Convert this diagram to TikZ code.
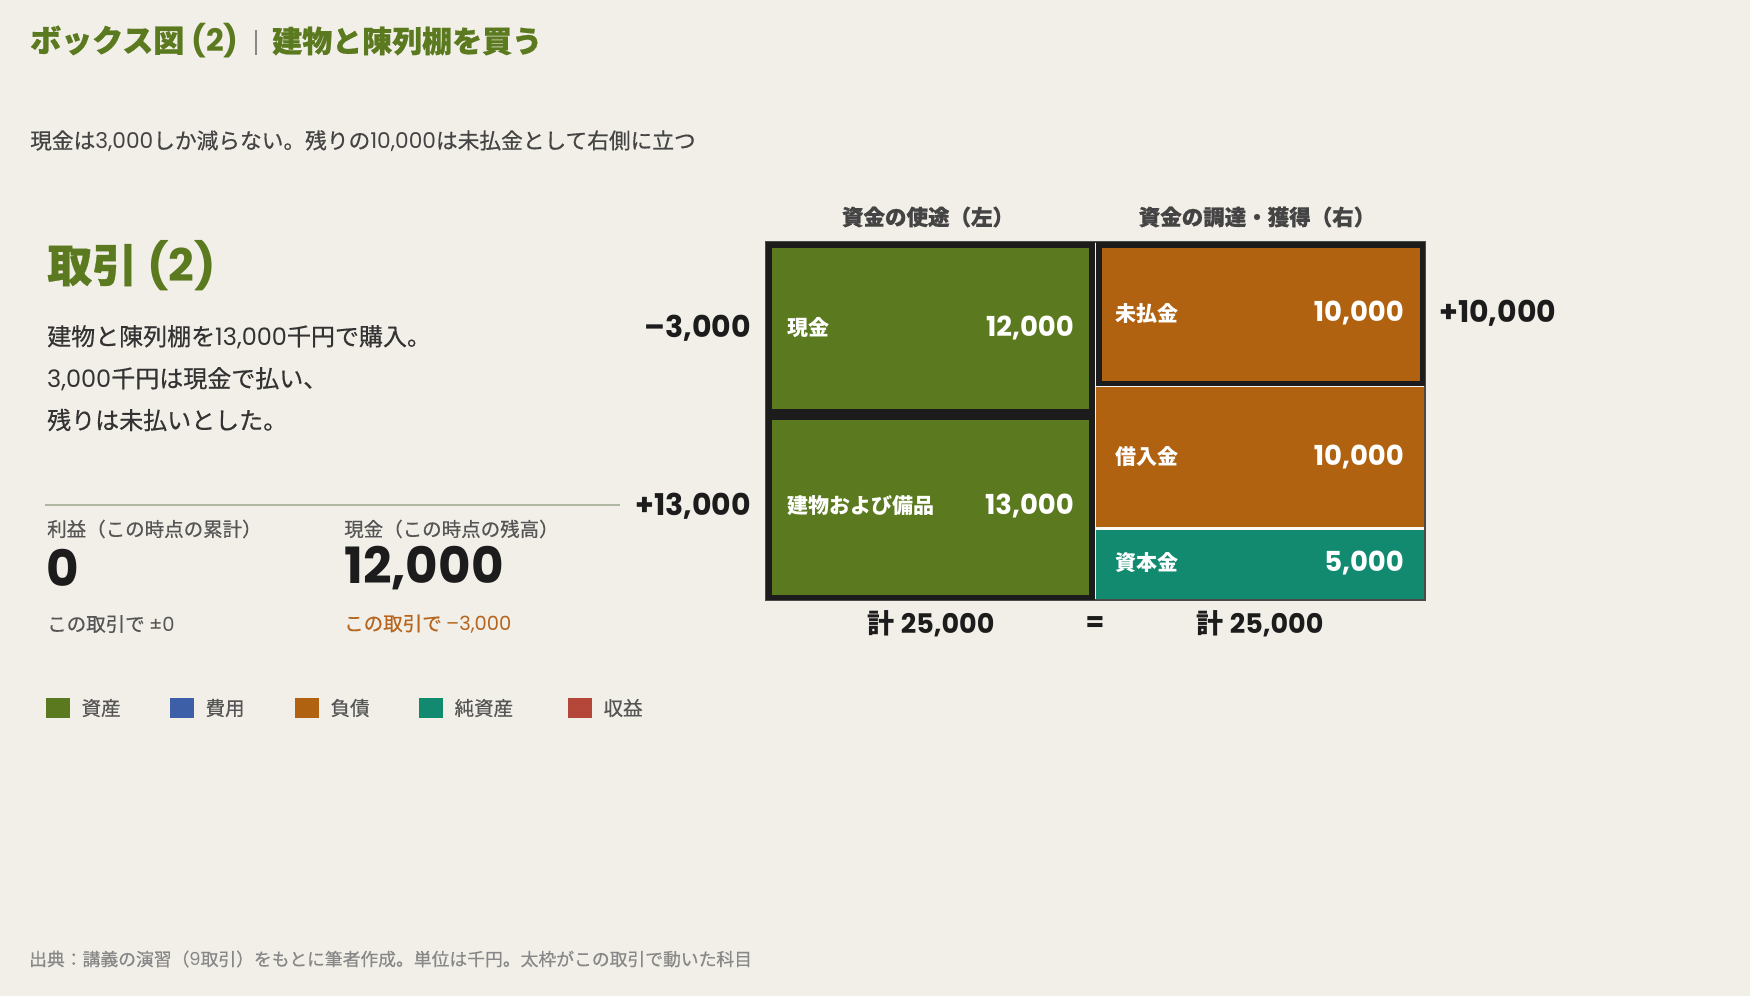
\documentclass[tikz,border=0pt]{standalone}
\usepackage{fontspec}
\setmainfont{Noto Sans CJK JP}
\newfontfamily\medfont{Noto Sans CJK JP}[FakeBold=0.5]
\newfontfamily\heavyfont{Noto Sans CJK JP}[BoldFeatures={FakeBold=0.8}]
\newfontfamily\numfont{Poppins}
\newcommand\nm[1]{{\numfont #1}}
\usetikzlibrary{positioning}

\definecolor{bgc}{HTML}{F2EFE8}
\definecolor{assetc}{HTML}{5B7A1F}
\definecolor{costc}{HTML}{3D5FA8}
\definecolor{debtc}{HTML}{B06210}
\definecolor{equityc}{HTML}{128A70}
\definecolor{incomec}{HTML}{B5473A}
\definecolor{inkc}{HTML}{1C1C1C}
\definecolor{headc}{HTML}{444444}
\definecolor{greyc}{HTML}{555555}
\definecolor{softc}{HTML}{888888}
\definecolor{rulec}{HTML}{B0B8A4}
\definecolor{framec}{HTML}{4A4A4A}
\definecolor{deltac}{HTML}{B5651D}

\tikzset{
  txt/.style={inner sep=0pt, anchor=west},
  title/.style={txt, text=assetc, font=\heavyfont\fontsize{30}{30}\selectfont\bfseries},
  head/.style={inner sep=0pt, text=headc, font=\heavyfont\fontsize{21.5}{21.5}\selectfont\bfseries},
  cellname/.style={txt, text=white, font=\fontsize{21}{21}\selectfont\bfseries},
  cellval/.style={inner sep=0pt, anchor=east, text=white, font=\numfont\fontsize{27.5}{27.5}\selectfont\bfseries},
  delta/.style={inner sep=0pt, text=inkc, font=\numfont\fontsize{30}{30}\selectfont\bfseries},
  total/.style={inner sep=0pt, text=inkc, font=\fontsize{27}{27}\selectfont\bfseries},
  desc/.style={txt, text=inkc!90, font=\medfont\fontsize{24}{24}\selectfont},
  small/.style={txt, text=greyc, font=\medfont\fontsize{19.5}{19.5}\selectfont},
  big/.style={txt, text=inkc, font=\numfont\fontsize{50}{50}\selectfont\bfseries},
  moved/.style={draw=inkc, line width=5.5pt},
  key/.style={minimum width=24pt, minimum height=20pt, inner sep=0pt, anchor=west},
}

\begin{document}
\begin{tikzpicture}[x=1pt,y=-1pt]
\fill[bgc] (0,0) rectangle (1750,996);

% title
\node[title, font=\heavyfont\fontsize{31}{31}\selectfont\bfseries] (title) at (30,41) {ボックス図 \nm{(2)}};
\draw[softc, line width=1.5] (256,30) -- (256,55);
\node[title] (title2) at (272,41) {建物と陳列棚を買う};
\node[txt, text=headc, font=\medfont\fontsize{21.7}{21.7}\selectfont] (sub) at (30,141)
  {現金は\nm{3,000}しか減らない。残りの\nm{10,000}は未払金として右側に立つ};

% left panel
\node[txt, text=assetc, font=\heavyfont\fontsize{45}{45}\selectfont\bfseries] (deal) at (47,266) {取引 \nm{(2)}};
\node[desc] (desc1) at (47,337) {建物と陳列棚を\nm{13,000}千円で購入。};
\node[desc] (desc2) at (47,379) {\nm{3,000}千円は現金で払い、};
\node[desc] (desc3) at (47,420) {残りは未払いとした。};
\draw[rulec, line width=2] (45,505) -- (620,505);

\node[small] (plabel) at (47,529) {利益（この時点の累計）};
\node[small] (clabel) at (344,529) {現金（この時点の残高）};
\node[big] (profit) at (46,568) {0};
\node[big] (cash) at (344,568) {12,000};
\node[small] (pdelta) at (47,624) {この取引で \nm{±0}};
\node[small, text=deltac] (cdelta) at (344,624) {この取引で \nm{–3,000}};

% legend
\node[key, fill=assetc] (k1) at (46,708) {};
\node[small, right=11pt of k1] {資産};
\node[key, fill=costc] (k2) at (170,708) {};
\node[small, right=11pt of k2] {費用};
\node[key, fill=debtc] (k3) at (295,708) {};
\node[small, right=11pt of k3] {負債};
\node[key, fill=equityc] (k4) at (419,708) {};
\node[small, right=11pt of k4] {純資産};
\node[key, fill=incomec] (k5) at (568,708) {};
\node[small, right=11pt of k5] {収益};

% box diagram
\node[head] (hleft) at (928,217) {資金の使途（左）};
\node[head] (hright) at (1257,217) {資金の調達・獲得（右）};

\fill[assetc] (766,242) rectangle (1094.5,414);
\fill[assetc] (766,414) rectangle (1094.5,600);
\fill[debtc] (1096,242) rectangle (1425,386);
\fill[debtc] (1096,386) rectangle (1425,528);
\fill[equityc] (1096,528) rectangle (1425,600);
\draw[bgc!60!white, line width=1] (1096,386.5) -- (1425,386.5);
\draw[bgc!40!white, line width=3] (1096,528.5) -- (1425,528.5);
\draw[framec, line width=1.5] (766,242) rectangle (1425,600);
\draw[moved] (768.75,244.75) rectangle (1091.75,411.25);
\draw[moved] (768.75,416.75) rectangle (1091.75,597.25);
\draw[moved] (1098.75,244.75) rectangle (1422.25,383.25);

\node[cellname] (cash1) at (787,328) {現金};
\node[cellval] (cash1v) at (1074,328) {12,000};
\node[cellname] (bldg) at (787,506) {建物および備品};
\node[cellval] (bldgv) at (1074,506) {13,000};
\node[cellname] (unpaid) at (1115,313) {未払金};
\node[cellval] (unpaidv) at (1404,313) {10,000};
\node[cellname] (loan) at (1115,457) {借入金};
\node[cellval] (loanv) at (1404,457) {10,000};
\node[cellname] (capital) at (1115,563) {資本金};
\node[cellval] (capitalv) at (1404,563) {5,000};

\node[delta, anchor=east] (dcash) at (751,328) {–3,000};
\node[delta, anchor=east] (dbldg) at (751,506) {+13,000};
\node[delta, anchor=west] (dunpaid) at (1439,313) {+10,000};

\node[total] (sumL) at (931,624) {計 \nm{25,000}};
\node[total] (eq) at (1095,624) {\nm{=}};
\node[total] (sumR) at (1260,624) {計 \nm{25,000}};

% footer
\node[txt, text=softc, font=\medfont\fontsize{17.8}{17.8}\selectfont] (src) at (29,959)
  {出典：講義の演習（\nm{9}取引）をもとに筆者作成。単位は千円。太枠がこの取引で動いた科目};
\end{tikzpicture}
\end{document}
